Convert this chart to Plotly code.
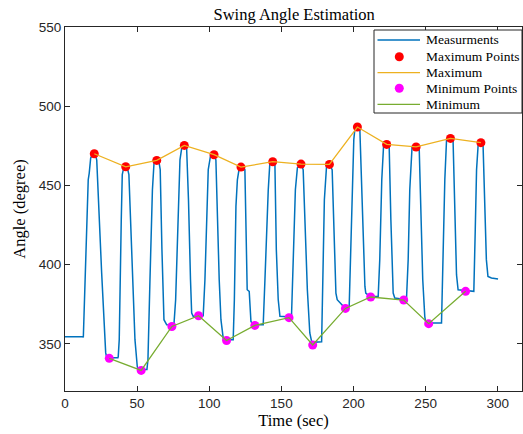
import plotly.graph_objects as go

meas_t = [0, 12.5, 12.7, 14.5, 16.1, 16.8, 17.8, 19.6, 20.3, 21.5, 22.0, 25.4, 28.2, 28.9, 36.7, 36.9,
          37.6, 39.0, 39.7, 40.7, 42.1, 43.2, 44.3, 46.2, 48.5, 50.1, 50.6, 56.8,
          57.5, 58.9, 60.6, 61.7, 63.5, 65.1, 66.0, 67.2, 68.6, 70.5, 75.5,
          76.7, 78.3, 79.7, 80.9, 82.7, 84.3, 85.6, 87.0, 87.8, 88.9, 95.8,
          97.0, 98.4, 99.3, 101.0, 103.2, 104.6, 105.7, 106.9, 108.1, 109.3, 109.8, 116.6,
          117.4, 118.5, 119.5, 120.6, 121.9, 124.7, 125.5, 126.3, 127.7, 128.9, 130.5, 137.4,
          138.6, 140.0, 140.9, 142.0, 143.9, 145.5, 146.5, 147.8, 149.0, 157.0,
          158.3, 159.7, 161.1, 163.5, 165.1, 166.3, 168.0, 169.7, 171.1, 177.9,
          178.8, 179.8, 181.3, 183.1, 185.2, 186.4, 187.8, 188.7, 190.5, 192.6, 197.0,
          197.5, 198.8, 200.2, 200.9, 202.5, 204.4, 205.8, 207.9, 208.5, 211.3, 217.1,
          218.2, 219.6, 221.0, 222.9, 224.7, 225.9, 227.5, 228.6, 236.7,
          237.9, 239.0, 240.6, 243.2, 245.5, 246.7, 248.0, 249.4, 250.1, 261.0,
          261.9, 263.3, 264.5, 267.0, 269.0, 270.2, 271.4, 272.5, 283.4,
          284.4, 285.3, 286.4, 288.0, 289.8, 292.1, 293.2, 295.6, 300.2]
meas_v = [354.6, 354.6, 354.1, 415.8, 453.6, 457.8, 467.3, 470.5, 470.0, 468.0, 466.0, 395.0, 344.5, 341.3, 341.3, 342.0,
          352.7, 428.4, 456.8, 461.2, 461.8, 461.2, 456.8, 409.5, 352.7, 335.8, 333.8, 333.8,
          340.0, 390.5, 447.3, 464.2, 465.8, 465.0, 460.0, 409.5, 365.3, 362.1, 362.0,
          377.9, 428.4, 466.2, 473.6, 475.3, 473.8, 441.0, 390.5, 369.5, 367.4, 367.8,
          390.5, 441.0, 460.0, 469.4, 469.4, 466.2, 428.4, 390.5, 365.3, 356.9, 352.7, 352.7,
          377.9, 436.8, 453.6, 459.9, 461.6, 459.9, 422.0, 384.2, 383.2, 364.2, 362.1, 362.1,
          390.5, 428.4, 447.3, 464.2, 465.0, 464.2, 409.5, 378.0, 367.4, 367.0,
          409.5, 447.3, 461.2, 463.5, 460.0, 428.4, 384.2, 356.9, 351.0, 351.4,
          390.5, 441.0, 462.0, 463.3, 460.0, 422.0, 382.1, 377.9, 376.0, 374.1, 373.5,
          390.5, 441.0, 478.9, 485.2, 486.9, 485.2, 441.0, 386.3, 382.1, 380.0, 380.0,
          403.2, 453.6, 477.8, 475.9, 475.7, 428.4, 382.1, 379.0, 377.9,
          403.2, 447.3, 474.6, 474.3, 474.6, 441.0, 390.5, 367.4, 363.2, 363.2,
          403.2, 453.6, 478.9, 479.7, 478.9, 441.0, 393.7, 384.2, 383.2,
          422.0, 460.0, 475.7, 477.0, 475.7, 403.2, 392.6, 391.6, 391.0]

max_t = [20.3, 42.1, 63.6, 82.7, 103.3, 122.0, 144.0, 163.6, 183.3, 202.7, 223.0, 243.4, 267.2, 288.3]
max_v = [470.0, 461.8, 465.8, 475.3, 469.4, 461.6, 465.0, 463.5, 463.3, 486.9, 475.9, 474.3, 479.7, 477.0]

min_t = [30.7, 52.8, 74.1, 92.6, 112.0, 131.6, 155.3, 171.7, 194.4, 211.9, 234.8, 252.1, 277.7]
min_v = [340.9, 333.3, 361.0, 367.8, 352.2, 361.7, 366.6, 349.3, 372.4, 379.6, 377.7, 362.8, 383.2]

x_ticks = [0, 50, 100, 150, 200, 250, 300]
y_ticks = [350, 400, 450, 500, 550]

legend_names = ["Measurments", "Maximum Points", "Maximum", "Minimum Points", "Minimum"]

SERIF = "Liberation Serif, Times New Roman, serif"
SANS = "Liberation Sans, Arial, sans-serif"
AX = "#262626"
C_MEAS, C_MAXP, C_MAX, C_MINP, C_MIN = "#0072BD", "#FF0000", "#EDB120", "#FF00FF", "#77AC30"

fig = go.Figure()
fig.add_trace(go.Scatter(x=meas_t, y=meas_v, mode="lines", name=legend_names[0],
                         line=dict(color=C_MEAS, width=1.5)))
fig.add_trace(go.Scatter(x=max_t, y=max_v, mode="markers", name=legend_names[1],
                         marker=dict(color=C_MAXP, size=9)))
fig.add_trace(go.Scatter(x=max_t, y=max_v, mode="lines", name=legend_names[2],
                         line=dict(color=C_MAX, width=1.3)))
fig.add_trace(go.Scatter(x=min_t, y=min_v, mode="markers", name=legend_names[3],
                         marker=dict(color=C_MINP, size=9)))
fig.add_trace(go.Scatter(x=min_t, y=min_v, mode="lines", name=legend_names[4],
                         line=dict(color=C_MIN, width=1.3)))

# Compact MATLAB-style legend box (paper coordinates)
ML, MT, PW, PH = 65, 27, 457, 364


def px(x):
    return (x - ML) / PW


def py(y):
    return 1 - (y - MT) / PH


shapes = [dict(type="rect", xref="paper", yref="paper", x0=px(374), x1=px(522), y0=py(30), y1=py(113),
               fillcolor="white", line=dict(color=AX, width=1), layer="above")]
annotations = []
row_y = [40, 56.7, 72.7, 88.2, 104.3]
kinds = [("line", C_MEAS, 1.5), ("dot", C_MAXP, 0), ("line", C_MAX, 1.3), ("dot", C_MINP, 0), ("line", C_MIN, 1.3)]
for name, yy, (kind, col, w) in zip(legend_names, row_y, kinds):
    if kind == "line":
        shapes.append(dict(type="line", xref="paper", yref="paper", x0=px(377.5), x1=px(420),
                           y0=py(yy), y1=py(yy), line=dict(color=col, width=w), layer="above"))
    else:
        r = 4.5
        shapes.append(dict(type="circle", xref="paper", yref="paper", x0=px(399.3 - r), x1=px(399.3 + r),
                           y0=py(yy + r), y1=py(yy - r), fillcolor=col, line=dict(color=col, width=0),
                           layer="above"))
    annotations.append(dict(text=name, xref="paper", yref="paper", x=px(424), y=py(yy),
                            xanchor="left", yanchor="middle", showarrow=False,
                            font=dict(family=SERIF, size=13.5, color="black")))

fig.update_layout(
    width=523, height=434,
    margin=dict(l=ML, r=1, t=MT, b=43, autoexpand=False),
    paper_bgcolor="white", plot_bgcolor="white",
    title=dict(text="Swing Angle Estimation", x=0.5625, xanchor="center", y=0.967, yanchor="middle",
               font=dict(family=SERIF, size=16.5, color="black")),
    showlegend=False,
    shapes=shapes,
    annotations=annotations,
)
fig.update_xaxes(range=[0, 316.8], tickvals=x_ticks, ticks="inside", ticklen=5, tickcolor=AX,
                 showline=True, linecolor=AX, linewidth=1, mirror="allticks", showgrid=False,
                 zeroline=False, tickfont=dict(family=SANS, size=13.5, color=AX),
                 title=dict(text="Time (sec)", font=dict(family=SERIF, size=16.5, color="black"), standoff=2))
fig.update_yaxes(range=[320.3, 550], tickvals=y_ticks, ticks="inside", ticklen=5, tickcolor=AX,
                 showline=True, linecolor=AX, linewidth=1, mirror="allticks", showgrid=False,
                 zeroline=False, tickfont=dict(family=SANS, size=13.5, color=AX),
                 title=dict(text="Angle (degree)", font=dict(family=SERIF, size=16.5, color="black"), standoff=8))

fig.write_html("out.html", config={"displayModeBar": False},
               post_script="document.body.style.margin='0px';")
